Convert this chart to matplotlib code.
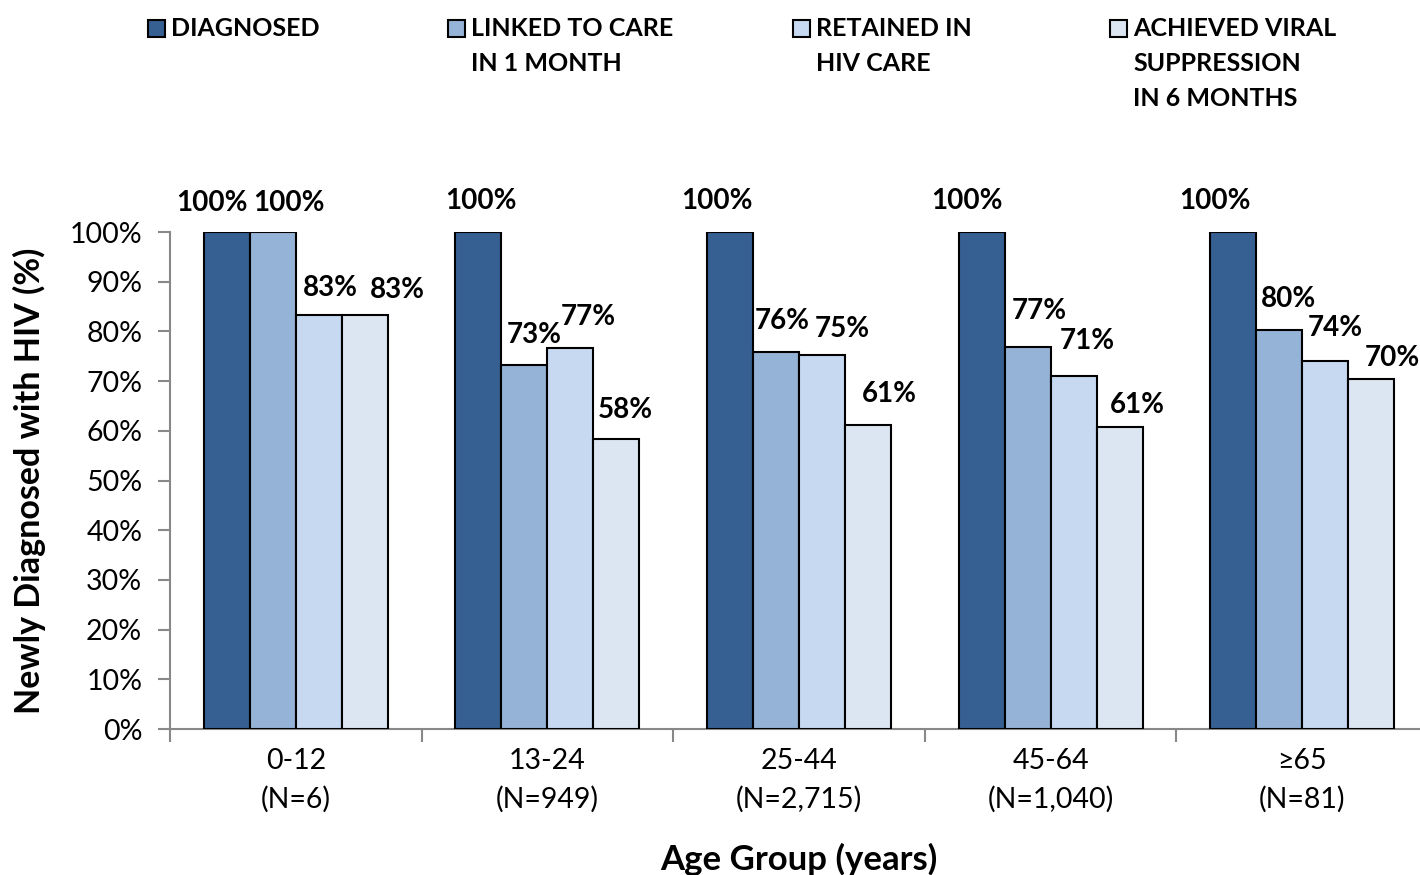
import matplotlib
matplotlib.use("Agg")
import matplotlib.pyplot as plt
from matplotlib.patches import Rectangle
import numpy as np

plt.rcParams['font.family'] = ['Lato', 'DejaVu Sans']

# Age groups and the care-continuum stages
age_groups = ["0-12\n(N=6)", "13-24\n(N=949)", "25-44\n(N=2,715)", "45-64\n(N=1,040)", "\u226565\n(N=81)"]
series_names = ["DIAGNOSED", "LINKED TO CARE\nIN 1 MONTH", "RETAINED IN\nHIV CARE",
                "ACHIEVED VIRAL\nSUPPRESSION\nIN 6 MONTHS"]
diagnosed = [100.0, 100.0, 100.0, 100.0, 100.0]
linked = [100.0, 73.2, 75.9, 76.8, 80.2]
retained = [83.3, 76.6, 75.2, 71.1, 74.1]
suppressed = [83.3, 58.4, 61.1, 60.7, 70.4]
series_values = [diagnosed, linked, retained, suppressed]
colors = ["#376092", "#95B3D7", "#C6D9F1", "#DCE6F2"]

# label nudges (pixels) per series / group so labels don't collide
label_dx = [[-15, 3, -13, -15, -18],
            [16, 10, 6, 12, 9],
            [12, 18, 20, 14, 10],
            [33, 9, 21, 18, 21]]
label_dy = [[29, 31, 31, 31, 31],
            [29, 30, 31, 36, 31],
            [27, 31, 26, 35, 33],
            [25, 29, 31, 22, 21]]

W, H = 1420, 875
fig = plt.figure(figsize=(W / 100, H / 100), dpi=100)
ax = fig.add_axes([170 / W, 1 - 729 / H, 1258 / W, (729 - 232) / H])

x = np.arange(len(age_groups))
bw = 0.183
for i, (vals, col) in enumerate(zip(series_values, colors)):
    xs = x + (i - 1.5) * bw
    ax.bar(xs, np.array(vals) / 100, width=bw, color=col, edgecolor="black",
           linewidth=1.5, zorder=3)
    for j, v in enumerate(vals):
        ax.annotate(f"{v:.0f}%", (xs[j], v / 100), xytext=(label_dx[i][j], label_dy[i][j]),
                    textcoords="offset pixels", ha="center", va="center",
                    fontsize=20, fontweight="bold", color="black", annotation_clip=False)

ax.set_xlim(-0.5, 4.5)
ax.set_ylim(0, 1.0)
ax.set_yticks(np.arange(0, 1.01, 0.1))
ax.set_yticklabels([f"{int(round(t * 100))}%" for t in np.arange(0, 1.01, 0.1)], fontsize=20.5)
ax.set_xticks(x)
ax.set_xticklabels(age_groups, fontsize=20.5, linespacing=1.5)
ax.set_xticks(np.arange(-0.5, 4.6, 1.0), minor=True)
ax.tick_params(axis="x", which="major", length=0, pad=14)
ax.tick_params(axis="x", which="minor", length=9, color="#888888", width=1.5)
ax.tick_params(axis="y", length=9, color="#888888", width=1.5, pad=11)
for s in ["top", "right"]:
    ax.spines[s].set_visible(False)
for s in ["left", "bottom"]:
    ax.spines[s].set_color("#888888")
    ax.spines[s].set_linewidth(1.5)

ax.set_xlabel("Age Group (years)", fontsize=25, fontweight="bold", labelpad=22)
ax.set_ylabel("Newly Diagnosed with HIV (%)", fontsize=24.5, fontweight="bold", labelpad=17)

# legend drawn across the top
leg_x = [148, 448, 793, 1110]
for name, col, lx in zip(series_names, colors, leg_x):
    fig.patches.append(Rectangle((lx / W, 1 - 37 / H), 17 / W, 17 / H, transform=fig.transFigure,
                                 facecolor=col, edgecolor="black", linewidth=1.5))
    fig.text((lx + 23) / W, 1 - 17 / H, name, ha="left", va="top", fontsize=18,
             fontweight="bold", linespacing=1.62, transform=fig.transFigure)

fig.savefig("out.png", dpi=100)
